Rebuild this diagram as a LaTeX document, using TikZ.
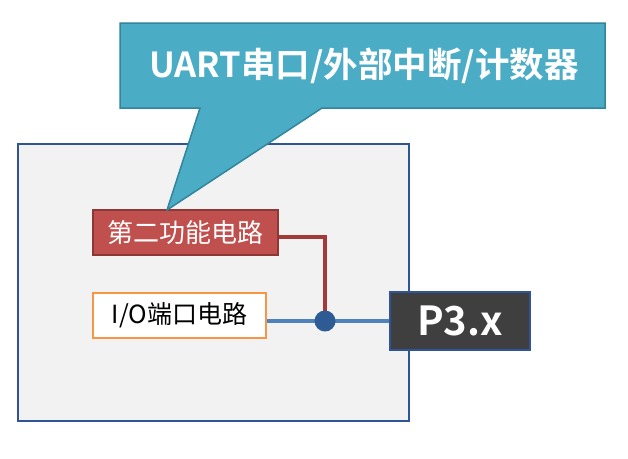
\documentclass[tikz,border=0pt]{standalone}
\usepackage{fontspec}
\setmainfont{Noto Sans CJK SC}
\newfontfamily\cjkbold{Noto Sans CJK SC Bold}
\definecolor{callfill}{HTML}{4BACC6}
\definecolor{callline}{HTML}{31859C}
\definecolor{boxfill}{HTML}{F2F2F2}
\definecolor{boxline}{HTML}{2F5597}
\definecolor{redfill}{HTML}{C0504D}
\definecolor{redline}{HTML}{8C3836}
\definecolor{orangeline}{HTML}{F79646}
\definecolor{blueline}{HTML}{4F81BD}
\definecolor{dotfill}{HTML}{2F5B94}
\definecolor{portfill}{HTML}{3F3F3F}
\definecolor{wirered}{HTML}{A33A37}
\tikzset{
  chip/.style={draw=boxline, line width=2pt, fill=boxfill},
  redbox/.style={draw=redline, line width=1.5pt, fill=redfill, text=white, font=\fontsize{26}{26}\selectfont, inner sep=0pt},
  orangebox/.style={draw=orangeline, line width=2pt, fill=white, text=black, font=\fontsize{25}{25}\selectfont, inner sep=0pt},
  portbox/.style={draw=boxline, line width=2pt, fill=portfill, text=white, font=\cjkbold\fontsize{40}{40}\selectfont, inner sep=0pt},
  callout/.style={draw=callline, line width=1.5pt, fill=callfill},
  bluewire/.style={draw=blueline, line width=4pt},
  redwire/.style={draw=wirered, line width=4pt},
}
\begin{document}
\begin{tikzpicture}[x=1pt,y=-1pt]
\useasboundingbox (0,0) rectangle (628,458);
\fill[white] (0,0) rectangle (628,458);
% chip box
\draw[chip] (18,144) rectangle (409,421);
% boxes
\node[redbox, minimum width=185pt, minimum height=45pt] (red) at (185.5,232.5) {第二功能电路};
\node[orangebox, minimum width=173pt, minimum height=45pt] (io) at (179.5,315) {I/O端口电路};
\node[portbox, minimum width=140pt, minimum height=58pt] (port) at (460,321) {P3.x};
\coordinate (j) at (325,321);
\draw[bluewire] (io.east |- j) -- (port.west |- j);
\draw[redwire] (red.east |- 0,237) -| (j);
\fill[dotfill] (j) circle (10.5pt);
% callout
\draw[callout] (120,23) -- (605,23) -- (605,108) -- (322,108) -- (167,210) -- (200,108) -- (120,108) -- cycle;
\node[text=white, font=\cjkbold\fontsize{34.5}{34.5}\selectfont] (title) at (364,66) {UART串口/外部中断/计数器};
\end{tikzpicture}
\end{document}
